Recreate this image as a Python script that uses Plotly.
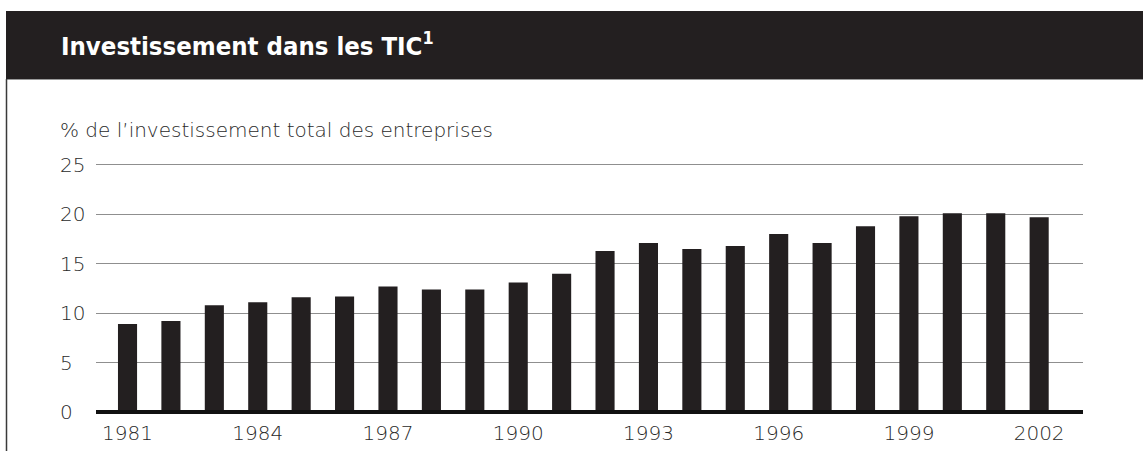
import plotly.graph_objects as go

years = list(range(1981, 2003))
values = [8.9, 9.2, 10.8, 11.1, 11.6, 11.7, 12.7, 12.4, 12.4, 13.1, 14.0,
          16.3, 17.1, 16.5, 16.8, 18.0, 17.1, 18.8, 19.8, 20.1, 20.1, 19.7]
x_tick_years = [1981, 1984, 1987, 1990, 1993, 1996, 1999, 2002]
y_ticks = [0, 5, 10, 15, 20, 25]
title_text = "Investissement dans les TIC<sup>1</sup>"
y_title = "% de l\u2019investissement total des entreprises"

W, H = 1143, 451
L, R, T, B = 96, 1083, 160, 412  # plot area in pixels

def px_x(p):
    return (p - L) / (R - L)

def px_y(p):
    return (B - p) / (B - T)

DARK = "#231f20"
TXT = "#2a2a2a"
FONT = "'DejaVu Sans', sans-serif"
TFONT = "'DejaVu Sans Condensed', 'DejaVu Sans', sans-serif"

fig = go.Figure()
fig.add_trace(go.Bar(x=years, y=values, marker=dict(color=DARK, line=dict(width=0)),
                     width=0.44, hoverinfo="x+y"))

shapes = [
    # title band
    dict(type="rect", xref="paper", yref="paper", x0=px_x(6), x1=px_x(W + 5),
         y0=px_y(79), y1=px_y(11), fillcolor=DARK, line=dict(width=0), layer="above"),
    dict(type="line", xref="paper", yref="paper", x0=px_x(6), x1=px_x(W + 5),
         y0=px_y(79.5), y1=px_y(79.5), line=dict(color="#9a9a9a", width=1)),
    # left border
    dict(type="line", xref="paper", yref="paper", x0=px_x(6.5), x1=px_x(6.5),
         y0=px_y(79), y1=px_y(H + 5), line=dict(color="#3a3a3a", width=1.5)),
    # baseline
    dict(type="line", xref="paper", yref="paper", x0=0, x1=1, y0=0, y1=0,
         line=dict(color="#111111", width=4), layer="above"),
]

annotations = [
    dict(text=title_text, xref="paper", yref="paper", x=px_x(59), y=px_y(44),
         xanchor="left", yanchor="middle", showarrow=False,
         font=dict(family=TFONT, size=25.5, color="white", weight="bold")),
    dict(text=y_title, xref="paper", yref="paper", x=px_x(58), y=px_y(130),
         xanchor="left", yanchor="middle", showarrow=False,
         font=dict(family=FONT, size=20, color=TXT, weight=300)),
]
for v in y_ticks:
    annotations.append(dict(text=str(v), xref="paper", yref="y", x=px_x(58), y=v,
                            xanchor="left", yanchor="middle", showarrow=False,
                            font=dict(family=FONT, size=20, color=TXT, weight=300)))

fig.update_layout(
    width=W, height=H,
    margin=dict(l=L, r=W - R, t=T, b=H - B, pad=0, autoexpand=False),
    paper_bgcolor="white", plot_bgcolor="white",
    showlegend=False,
    shapes=shapes, annotations=annotations,
    bargap=0.56,
    xaxis=dict(range=[1980.274, 2003.01], tickmode="array", tickvals=x_tick_years,
               ticktext=[str(y) for y in x_tick_years], showgrid=False, zeroline=False,
               showline=False, ticks="", ticklabelstandoff=7, automargin=False,
               tickfont=dict(family=FONT, size=20, color=TXT, weight=300)),
    yaxis=dict(range=[0, 25.5], tickvals=y_ticks, showticklabels=False, showgrid=True,
               automargin=False,
               gridcolor="#8f8f8f", gridwidth=1, zeroline=False, showline=False, ticks=""),
)

fig.write_html("out.html", config={"displayModeBar": False},
               post_script="document.body.style.margin='0';")
